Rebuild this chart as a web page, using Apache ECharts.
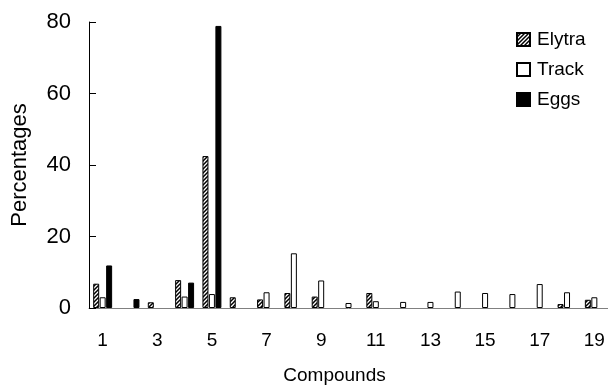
<!DOCTYPE html>
<html>
<head>
<meta charset="utf-8">
<script src="https://cdn.jsdelivr.net/npm/echarts@6/dist/echarts.min.js"></script>
<style>
  html, body { margin: 0; padding: 0; background: #fff; }
  #chart { width: 608px; height: 390px; }
</style>
</head>
<body>
<div id="chart"></div>
<script>
const compounds = ['1', '2', '3', '4', '5', '6', '7', '8', '9', '10', '11', '12', '13', '14', '15', '16', '17', '18', '19'];
const elytra = [6.8, 0, 1.6, 7.8, 42.5, 3.0, 2.4, 4.2, 3.2, 0, 4.2, 0, 0, 0, 0, 0, 0, 1.1, 2.3];
const track = [3.0, 0, 0, 3.2, 3.9, 0, 4.4, 15.3, 7.7, 1.4, 1.9, 1.7, 1.7, 4.6, 4.2, 3.9, 6.7, 4.4, 3.0];
const eggs = [11.9, 2.5, 0, 7.1, 78.9, 0, 0, 0, 0, 0, 0, 0, 0, 0, 0, 0, 0, 0, 0];
const yTicks = [0, 20, 40, 60, 80];

const FONT = '"Liberation Sans", Arial, sans-serif';

// diagonal hatch for the elytra bars
function hatch() {
  const c = document.createElement('canvas');
  c.width = 4;
  c.height = 4;
  const ctx = c.getContext('2d');
  ctx.fillStyle = '#fff';
  ctx.fillRect(0, 0, 4, 4);
  ctx.strokeStyle = '#000';
  ctx.lineWidth = 1.5;
  ctx.beginPath();
  ctx.moveTo(0, 4); ctx.lineTo(4, 0);
  ctx.moveTo(-1, 1); ctx.lineTo(1, -1);
  ctx.moveTo(3, 5); ctx.lineTo(5, 3);
  ctx.stroke();
  return c;
}

const noZero = (arr) => arr.map((v) => (v === 0 ? '-' : v));

const chart = echarts.init(document.getElementById('chart'));

const barBase = {
  type: 'bar',
  barWidth: 6,
  barGap: '8%',
  animation: false,
};

chart.setOption({
  backgroundColor: '#fff',
  textStyle: { fontFamily: FONT },
  grid: { left: 89, right: 0, top: 22, bottom: 80, containLabel: false },
  legend: {
    orient: 'vertical',
    left: 516,
    top: 30,
    padding: 0,
    itemWidth: 13,
    itemHeight: 13,
    itemGap: 11,
    icon: 'rect',
    textStyle: { fontSize: 19, color: '#000', fontFamily: FONT, padding: [0, 0, 0, 2] },
    data: ['Elytra', 'Track', 'Eggs'],
  },
  xAxis: {
    type: 'category',
    data: compounds,
    name: 'Compounds',
    nameLocation: 'middle',
    nameGap: 58,
    nameTextStyle: { fontSize: 19, color: '#000', fontFamily: FONT, padding: [0, 28, 0, 0] },
    axisLine: { lineStyle: { color: '#808080', width: 1 } },
    axisTick: { show: false },
    axisLabel: { interval: 1, fontSize: 19, color: '#000', margin: 23, fontFamily: FONT },
  },
  yAxis: {
    type: 'value',
    min: yTicks[0],
    max: yTicks[yTicks.length - 1],
    interval: 20,
    name: 'Percentages',
    nameLocation: 'middle',
    nameGap: 58,
    nameTextStyle: { fontSize: 22, color: '#000', fontFamily: FONT },
    axisLine: { show: true, lineStyle: { color: '#000', width: 1 } },
    axisTick: { show: true, inside: true, length: 7, lineStyle: { color: '#000' } },
    axisLabel: { fontSize: 22, color: '#000', margin: 18, fontFamily: FONT },
    splitLine: { show: false },
  },
  series: [
    {
      ...barBase,
      name: 'Elytra',
      data: noZero(elytra),
      itemStyle: { color: { image: hatch(), repeat: 'repeat' }, borderColor: '#000', borderWidth: 1 },
    },
    {
      ...barBase,
      name: 'Track',
      data: noZero(track),
      itemStyle: { color: '#fff', borderColor: '#000', borderWidth: 1 },
    },
    {
      ...barBase,
      name: 'Eggs',
      data: noZero(eggs),
      itemStyle: { color: '#000', borderColor: '#000', borderWidth: 1 },
    },
  ],
});
</script>
</body>
</html>
